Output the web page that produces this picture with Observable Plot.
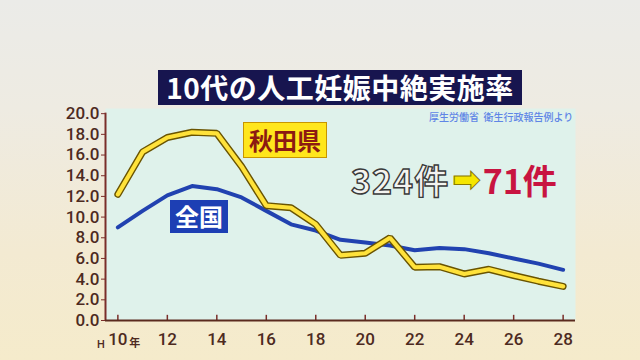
<!DOCTYPE html>
<html>
<head>
<meta charset="utf-8">
<script src="https://cdn.jsdelivr.net/npm/d3@7"></script>
<script src="https://cdn.jsdelivr.net/npm/@observablehq/plot@0.6"></script>
<style>
  html, body { margin: 0; padding: 0; }
  #wrap { position: relative; width: 640px; height: 360px; overflow: hidden;
    background: linear-gradient(to bottom, #ebebe8 0%, #eeebe2 30%, #f3ead2 70%, #f5ebcb 100%);
    font-family: "Noto Sans CJK JP", sans-serif; }
  #wrap svg { position: absolute; left: 0; top: 0; background: transparent; }
  .ov { position: absolute; box-sizing: border-box; white-space: nowrap; }
  #title { left: 158px; top: 70px; width: 364px; height: 35px; background: #17154f; color: #fff;
    font-size: 28px; font-weight: 700; line-height: 35px; text-align: center; letter-spacing: 0.5px; }
  #source { left: 429px; top: 109px; font-size: 10px; color: #5f86e6; font-weight: 500; }
  #akita { left: 243px; top: 122px; width: 84px; height: 36px; background: #ffe61c; border: 1px solid #c79500;
    color: #8c1a12; font-size: 24px; font-weight: 700; line-height: 33px; text-align: center; }
  #zenkoku { left: 170px; top: 200px; width: 58px; height: 33px; background: #1d3fb4;
    color: #fff; font-size: 24px; font-weight: 700; line-height: 31px; text-align: center; }
  #count { left: 351px; top: 157px; height: 46px; font-size: 34px; font-weight: 700; line-height: 46px; }
  #count .a { color: #f4f4f0; -webkit-text-stroke: 1.4px #3a3a3a; letter-spacing: 1px; }
  #count .arr { color: #f5e600; -webkit-text-stroke: 1px #8a7a00; font-size: 34px; font-family: "DejaVu Sans";
    display: inline-block; margin: 0 2px 0 3px; vertical-align: top; line-height: 44px; }
  #count .b { color: #c81440; letter-spacing: 0px; }
</style>
</head>
<body>
<div id="wrap">
  <div id="chart"></div>
  <div class="ov" id="title">10代の人工妊娠中絶実施率</div>
  <div class="ov" id="source">厚生労働省&nbsp;&nbsp;衛生行政報告例より</div>
  <div class="ov" id="akita">秋田県</div>
  <div class="ov" id="zenkoku">全国</div>
  <div class="ov" id="count"><span class="a">324件</span><span class="arr">➡</span><span class="b">71件</span></div>
</div>
<script>
// Heisei years
const years = [10, 11, 12, 13, 14, 15, 16, 17, 18, 19, 20, 21, 22, 23, 24, 25, 26, 27, 28];
// Akita prefecture rate (per 1000)
const akitaValues = [12.2, 16.3, 17.7, 18.2, 18.1, 14.9, 11.1, 10.9, 9.3, 6.3, 6.5, 8.0, 5.15, 5.2, 4.5, 4.95, 4.35, 3.8, 3.3];
// Nationwide rate
const nationValues = [9.0, 10.6, 12.1, 13.0, 12.7, 11.9, 10.6, 9.3, 8.7, 7.8, 7.55, 7.25, 6.8, 7.0, 6.9, 6.5, 6.0, 5.5, 4.9];
const yTicks = [0, 2, 4, 6, 8, 10, 12, 14, 16, 18, 20];
const xTicks = [10, 12, 14, 16, 18, 20, 22, 24, 26, 28];

const akita = years.map((x, i) => ({x, y: akitaValues[i]}));
const nation = years.map((x, i) => ({x, y: nationValues[i]}));

const axisColor = "#7a2e2a";
const labelColor = "#4d2a1f";

const chart = Plot.plot({
  width: 640,
  height: 360,
  marginLeft: 105,
  marginRight: 65,
  marginTop: 108,
  marginBottom: 40,
  style: { background: "transparent", fontFamily: "Roboto, sans-serif" },
  x: { domain: [9.5, 28.5] },
  y: { domain: [0, 20.5] },
  marks: [
    Plot.frame({ fill: "#dff2eb", stroke: "none" }),
    Plot.axisY({ ticks: yTicks, tickFormat: d => d.toFixed(1), tickSize: 4, tickPadding: 2,
      fontSize: 17, fontWeight: 500, color: labelColor, stroke: axisColor, label: null }),
    Plot.axisX({ ticks: xTicks, tickFormat: d => String(d), tickSize: 0, tickPadding: 12,
      fontSize: 17, fontWeight: 500, color: labelColor, label: null }),
    Plot.text([10], { x: d => d, y: 0, text: () => "H", dx: -17, dy: 24, fontSize: 11, fontWeight: 500, fill: labelColor }),
    Plot.text([10], { x: d => d, y: 0, text: () => "年", dx: 17, dy: 23, fontSize: 11, fontWeight: 700, fill: labelColor, fontFamily: "Noto Sans CJK JP" }),
    Plot.ruleX(xTicks, { x: d => d, y1: 0, y2: 0.5, stroke: axisColor, strokeWidth: 1.5 }),
    Plot.ruleX([9.5], { y1: 0, y2: 20.05, stroke: axisColor, strokeWidth: 2 }),
    Plot.ruleY([0], { x1: 9.5, x2: 28.5, stroke: "#5a2a1e", strokeWidth: 2 }),
    Plot.line(nation, { x: "x", y: "y", stroke: "#2142b0", strokeWidth: 4, strokeLinecap: "round" }),
    Plot.line(akita, { x: "x", y: "y", stroke: "#6a5400", strokeWidth: 7, strokeLinecap: "round", strokeLinejoin: "miter" }),
    Plot.line(akita, { x: "x", y: "y", stroke: "#ffe23a", strokeWidth: 4.2, strokeLinecap: "round", strokeLinejoin: "miter" })
  ]
});
document.getElementById("chart").appendChild(chart);
</script>
</body>
</html>
